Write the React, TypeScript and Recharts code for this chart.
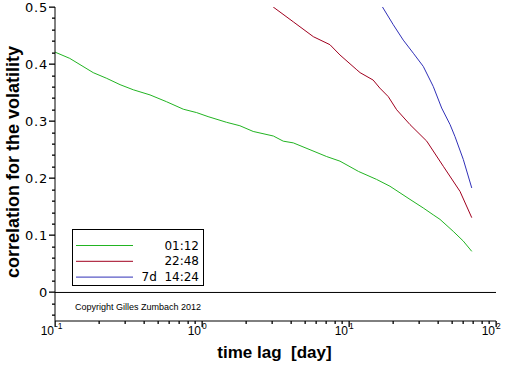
import React from 'react';
import { LineChart, Line, XAxis, YAxis, ReferenceLine, Legend } from 'recharts';

const SANS = '"Liberation Sans", Arial, Helvetica, sans-serif';
const WIDE = '"DejaVu Sans", Verdana, sans-serif';

// time lag [day] and correlation for each series
const lag0112 = [0.1, 0.126, 0.182, 0.225, 0.277, 0.341, 0.443, 0.575, 0.746, 0.92, 1.1, 1.47, 1.81, 2.23, 3.06, 3.57, 4.18, 5.43, 7.05, 8.68, 11.6, 15.4, 19.0, 26.0, 32.0, 37.4, 41.6, 51.2, 59.9, 68.4];
const corr0112 = [0.421, 0.41, 0.385, 0.375, 0.364, 0.355, 0.346, 0.334, 0.321, 0.315, 0.308, 0.298, 0.292, 0.282, 0.274, 0.265, 0.262, 0.25, 0.238, 0.23, 0.212, 0.198, 0.186, 0.163, 0.148, 0.136, 0.128, 0.107, 0.09, 0.072];

const lag2248 = [3.05, 4.18, 5.72, 7.42, 8.68, 11.3, 11.9, 14.6, 16.2, 18.5, 21.1, 26.0, 33.8, 43.8, 56.9, 68.4];
const corr2248 = [0.5, 0.474, 0.448, 0.434, 0.416, 0.39, 0.385, 0.372, 0.358, 0.343, 0.32, 0.294, 0.265, 0.221, 0.177, 0.131];

const lag7d = [16.9, 20.0, 23.4, 27.4, 32.0, 37.4, 42.7, 48.7, 52.6, 59.9, 68.4];
const corr7d = [0.5, 0.469, 0.442, 0.419, 0.396, 0.361, 0.323, 0.294, 0.273, 0.233, 0.183];

const seriesNames = ['01:12', '22:48', '7d  14:24'];
const seriesColors = ['#22b422', '#a0001e', '#3030b8'];

const xMajorTicks = [0.1, 1, 10, 100];
const xExponents = ['-1', '0', '1', '2'];
const xMinorTicks = [0.2, 0.3, 0.4, 0.5, 0.6, 0.7, 0.8, 0.9, 2, 3, 4, 5, 6, 7, 8, 9, 20, 30, 40, 50, 60, 70, 80, 90];
const yMajorTicks = [0, 0.1, 0.2, 0.3, 0.4, 0.5];
const yTickLabels = ['0', '0.1', '0.2', '0.3', '0.4', '0.5'];
const yMinorTicks = [-0.04, -0.02, 0.02, 0.04, 0.06, 0.08, 0.12, 0.14, 0.16, 0.18, 0.22, 0.24, 0.26, 0.28, 0.32, 0.34, 0.36, 0.38, 0.42, 0.44, 0.46, 0.48];

const zip = (xs: number[], ys: number[]) => xs.map((x, i) => ({ x, y: ys[i] }));
const series = [zip(lag0112, corr0112), zip(lag2248, corr2248), zip(lag7d, corr7d)];

const findIdx = (arr: number[], v: number) =>
  arr.findIndex((m) => Math.abs(m - v) < 1e-9 + Math.abs(m) * 1e-6);

const XTick = (props: any) => {
  const x = Number(props.x);
  const y = Number(props.y);
  const idx = findIdx(xMajorTicks, props.payload.value);
  const len = idx < 0 ? 3 : 6;
  return (
    <g>
      <rect x={Math.round(x) - 0.5} y={y} width={1.3} height={len} fill="#000" />
      {idx >= 0 && (
        <>
          <text x={x - 1} y={y + 14} textAnchor="end" fontSize={12} fontFamily={SANS} fill="#000">10</text>
          <text x={x} y={y + 8} textAnchor="start" fontSize={8.5} fontFamily={SANS} fill="#000">{xExponents[idx]}</text>
        </>
      )}
    </g>
  );
};

const YTick = (props: any) => {
  const x = Number(props.x);
  const y = Number(props.y);
  const idx = findIdx(yMajorTicks, props.payload.value);
  const len = idx < 0 ? 3 : 6;
  return (
    <g>
      <rect x={x - len} y={Math.round(y) - 0.5} width={len} height={1.3} fill="#000" />
      {idx >= 0 && (
        <text x={x - 7} y={y} dy="0.36em" textAnchor="end" fontSize={13} fontFamily={WIDE} letterSpacing={0.8} fill="#000">{yTickLabels[idx]}</text>
      )}
    </g>
  );
};

const XLabel = (props: any) => {
  const vb = props.viewBox || { x: 55, y: 321, width: 441 };
  return (
    <text x={vb.x + vb.width / 2 - 1} y={vb.y + 37} textAnchor="middle" fontSize={17} fontWeight="bold" fontFamily={SANS} fill="#000" style={{ whiteSpace: 'pre' }}>
      {'time lag  [day]'}
    </text>
  );
};

const YLabel = (props: any) => {
  const vb = props.viewBox || { x: 0, y: 7, width: 55, height: 314 };
  const cx = vb.x + 19;
  const cy = vb.y + vb.height / 2 - 2;
  return (
    <text x={cx} y={cy} transform={`rotate(-90 ${cx} ${cy})`} textAnchor="middle" fontSize={18} fontWeight="bold" fontFamily={SANS} fill="#000">
      correlation for the volatility
    </text>
  );
};

const Copyright = (props: any) => {
  const vb = props.viewBox || { x: 55, y: 293 };
  return (
    <text x={vb.x + 20} y={vb.y + 18} fontSize={9} fontFamily={SANS} fill="#000">
      Copyright Gilles Zumbach 2012
    </text>
  );
};

const LegendBox = () => (
  <svg width={133} height={58} style={{ display: 'block' }}>
    <rect x={0.5} y={0.5} width={131} height={56} fill="#fff" stroke="#000" />
    {seriesNames.map((n, i) => {
      const ly = 16.5 + i * 15.8;
      return (
        <g key={n}>
          <line x1={4} x2={61} y1={ly} y2={ly} stroke={seriesColors[i]} />
          <text x={127} y={ly + 4} textAnchor="end" fontSize={12} fontFamily={WIDE} fill="#000" style={{ whiteSpace: 'pre' }}>
            {n}
          </text>
        </g>
      );
    })}
  </svg>
);

export default function App() {
  return (
    <div style={{ position: 'absolute', left: 0, top: 0, background: '#fff' }}>
      <LineChart width={512} height={366} margin={{ top: 7, right: 16, bottom: 0, left: 0 }}>
        <XAxis
          type="number"
          dataKey="x"
          scale="log"
          domain={[0.1, 100]}
          allowDataOverflow
          ticks={[...xMajorTicks, ...xMinorTicks]}
          interval={0}
          tickSize={0}
          tickMargin={0}
          tickLine={false}
          tick={(p: any) => <XTick {...p} />}
          axisLine={{ stroke: '#000' }}
          height={45}
          label={<XLabel />}
        />
        <YAxis
          type="number"
          dataKey="y"
          domain={[-0.05, 0.5]}
          allowDataOverflow
          ticks={[...yMajorTicks, ...yMinorTicks]}
          interval={0}
          tickSize={0}
          tickMargin={0}
          tickLine={false}
          tick={(p: any) => <YTick {...p} />}
          axisLine={{ stroke: '#000' }}
          width={55}
          label={<YLabel />}
        />
        <ReferenceLine y={0} stroke="#000" strokeWidth={1} label={<Copyright />} />
        {series.map((d, i) => (
          <Line
            key={seriesNames[i]}
            data={d}
            dataKey="y"
            name={seriesNames[i]}
            type="linear"
            stroke={seriesColors[i]}
            strokeWidth={1}
            dot={false}
            activeDot={false}
            isAnimationActive={false}
          />
        ))}
        <Legend
          layout="vertical"
          align="center"
          verticalAlign="middle"
          content={() => <LegendBox />}
          wrapperStyle={{ position: 'absolute', left: 72, top: 229, width: 133, height: 58 }}
        />
      </LineChart>
    </div>
  );
}
